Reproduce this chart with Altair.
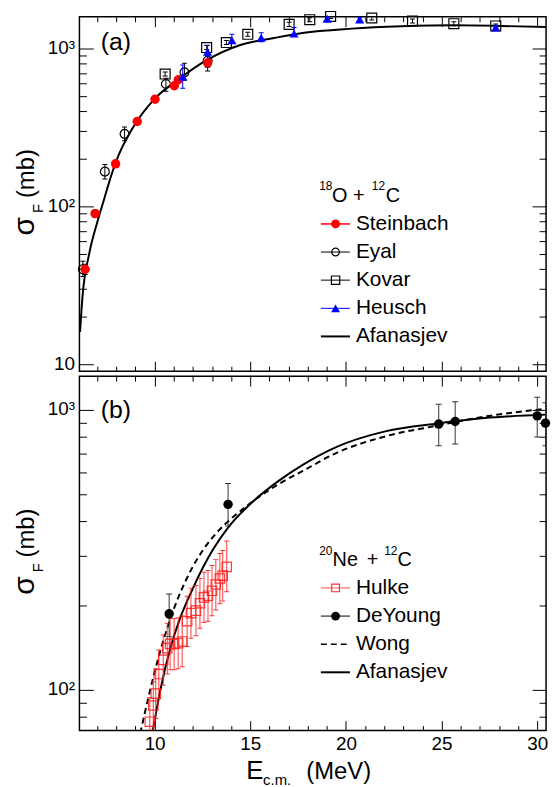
import altair as alt
import pandas as pd

FONT = "Liberation Sans"
W, H = 470, 357
X_DOMAIN = [6.07, 30.46]
YA_DOMAIN = [9.04, 1589]
YB_DOMAIN = [71.6, 1320]

# ---------------- tick values ----------------
x_major = [10, 15, 20, 25, 30]
x_minor = [7, 8, 9, 11, 12, 13, 14, 16, 17, 18, 19, 21, 22, 23, 24, 26, 27, 28, 29]
ya_major = [10, 100, 1000]
ya_minor = [20, 30, 40, 50, 60, 70, 80, 90, 200, 300, 400, 500, 600, 700, 800, 900]
yb_major = [100, 1000]
yb_minor = [80, 90, 200, 300, 400, 500, 600, 700, 800, 900]

# ---------------- panel (a): 18O + 12C ----------------
stein_E = [6.37, 6.89, 7.96, 9.09, 10.02, 11.03, 11.24, 12.77]
stein_s = [40, 90, 186, 345, 477, 581, 634, 811]
stein_lo = [37, 85, 178, 333, 462, 565, 617, 720]
stein_hi = [43, 95, 194, 357, 492, 597, 651, 900]

eyal_E = [6.25, 7.40, 8.43, 10.59, 11.56, 12.77]
eyal_s = [40, 166, 288, 596, 706, 837]
eyal_lo = [36, 149, 260, 537, 630, 760]
eyal_hi = [45, 184, 318, 647, 805, 920]

kovar_E = [10.55, 12.72, 13.75, 14.87, 17.03, 18.11, 19.20, 21.35, 23.48, 25.64, 27.83]
kovar_s = [689, 1014, 1091, 1230, 1422, 1521, 1596, 1560, 1494, 1436, 1389]
kovar_lo = [669, 985, 1060, 1195, 1380, 1477, 1550, 1515, 1450, 1394, 1349]
kovar_hi = [709, 1044, 1124, 1267, 1465, 1567, 1644, 1607, 1539, 1479, 1431]

heusch_E = [11.47, 12.77, 14.04, 15.57, 17.29, 19.02, 20.72, 27.83]
heusch_s = [664, 953, 1128, 1168, 1242, 1545, 1528, 1356]
heusch_lo = [560, 887, 1075, 1102, 1189, 1500, 1485, 1320]
heusch_hi = [785, 1049, 1230, 1260, 1356, 1590, 1572, 1393]

afa_a_E = [6.10, 6.24, 6.58, 7.01, 7.36, 7.62, 7.96, 8.91, 9.95, 11.33, 12.72,
           14.44, 16.25, 17.72, 20.32, 22.90, 25.68, 28.10, 30.46]
afa_a_s = [16, 27.6, 50, 80, 111, 142, 189, 322, 473, 648, 843,
           1049, 1165, 1255, 1336, 1381, 1402, 1389, 1368]

# ---------------- panel (b): 20Ne + 12C ----------------
hulke_E = [9.75, 9.93, 10.06, 10.22, 10.45, 10.66, 10.81, 11.02, 11.23, 11.44, 11.70,
           11.90, 12.16, 12.37, 12.58, 12.79, 13.00, 13.20, 13.41, 13.56, 13.77]
hulke_s = [77, 88, 97, 114, 128, 141, 146, 146, 147, 149, 176,
           188, 192, 204, 214, 217, 226, 238, 250, 256, 275]
hulke_lo = [63, 72, 79, 93, 104, 114, 118, 118, 119, 121, 143,
            153, 156, 166, 174, 176, 184, 193, 203, 208, 224]
hulke_hi = [94, 107, 119, 139, 157, 173, 180, 180, 181, 184, 216,
            231, 236, 250, 263, 267, 278, 292, 307, 315, 340]

dey_E = [10.76, 13.84, 24.85, 25.71, 30.00, 30.43]
dey_s = [187, 460, 890, 909, 952, 897]
dey_lo = [155, 385, 745, 755, 800, 745]
dey_hi = [220, 546, 1048, 1070, 1109, 1060]

wong_E = [9.25, 9.69, 10.30, 11.07, 11.68, 12.80, 13.15, 14.96, 16.52, 17.72,
          19.46, 22.05, 24.81, 27.23, 30.46]
wong_s = [70, 95, 138, 200, 250, 335, 358, 462, 545, 604,
          700, 804, 880, 946, 1010]

afa_b_E = [9.88, 10.30, 10.81, 11.30, 11.80, 12.54, 13.06, 13.84, 15.13, 16.52,
           17.72, 19.46, 22.05, 24.81, 27.23, 30.46]
afa_b_s = [70, 100, 140, 178, 215, 275, 318, 380, 470, 560,
           635, 735, 838, 895, 935, 962]

# ---------------- helpers ----------------
xsc = alt.Scale(domain=X_DOMAIN, nice=False, zero=False)
ysc_a = alt.Scale(type="log", domain=YA_DOMAIN, nice=False)
ysc_b = alt.Scale(type="log", domain=YB_DOMAIN, nice=False)
ONE = pd.DataFrame({"k": [0]})


def X(field, axis=None):
    return alt.X(f"{field}:Q", scale=xsc, axis=axis)


def Y(field, ysc, axis=None):
    return alt.Y(f"{field}:Q", scale=ysc, axis=axis)


def tick_axis(orient, values, size, offset):
    return alt.Axis(orient=orient, values=values, tickSize=size, offset=offset,
                    labels=False, domain=False, grid=False, title=None, ticks=True,
                    tickColor="black", tickWidth=1)


def axis_layers(df, ysc, ymaj, ymin, show_x_labels):
    ylab = alt.Axis(orient="left", values=ymaj, ticks=False, domain=False, grid=False,
                    title=None,
                    labelExpr="datum.value == 10 ? '10' : (datum.value == 100 ? '10²' : '10³')",
                    labelFont=FONT, labelFontSize=19, labelColor="black", labelPadding=5,
                    labelFlush=False, labelOverlap=False, labelOffset=-1)
    xlab = None
    if show_x_labels:
        xlab = alt.Axis(orient="bottom", values=x_major, ticks=False, domain=False,
                        grid=False, title=None, format="d", labelFont=FONT,
                        labelFontSize=19, labelColor="black", labelPadding=4,
                        labelFlush=False)
    specs = [(xlab, ylab),
             (tick_axis("top", x_major, 10, -H), tick_axis("right", ymaj, 14, -W)),
             (tick_axis("top", x_minor, 5, -H), tick_axis("right", ymin, 7, -W)),
             (tick_axis("bottom", x_major, 10, -H), tick_axis("left", ymaj, 14, -W)),
             (tick_axis("bottom", x_minor, 5, -H), tick_axis("left", ymin, 7, -W))]
    return [alt.Chart(df).mark_point(opacity=0, clip=True).encode(
        x=X("E", xa), y=Y("s", ysc, ya)) for xa, ya in specs]


def curve(E, s, ysc, dash=None):
    df = pd.DataFrame({"E": E, "s": s})
    kw = dict(color="black", strokeWidth=2, clip=True, interpolate="monotone")
    if dash:
        kw["strokeDash"] = dash
    return alt.Chart(df).mark_line(**kw).encode(x=X("E"), y=Y("s", ysc))


def series(E, s, lo, hi, ysc, shape, size, color, filled, bar_color, cap=5,
           sw=1.2, opacity=1.0):
    df = pd.DataFrame({"E": E, "s": s, "lo": lo, "hi": hi})
    base = alt.Chart(df)
    rule = base.mark_rule(color=bar_color, strokeWidth=1, clip=True, opacity=opacity).encode(
        x=X("E"), y=Y("lo", ysc), y2="hi:Q")
    cap_lo = base.mark_tick(orient="horizontal", size=cap, thickness=1, color=bar_color,
                            clip=True, opacity=opacity).encode(x=X("E"), y=Y("lo", ysc))
    cap_hi = base.mark_tick(orient="horizontal", size=cap, thickness=1, color=bar_color,
                            clip=True, opacity=opacity).encode(x=X("E"), y=Y("hi", ysc))
    pts = base.mark_point(shape=shape, size=size, filled=filled, color=color,
                          strokeWidth=sw, opacity=opacity).encode(x=X("E"), y=Y("s", ysc))
    return [rule, cap_lo, cap_hi, pts]


def seg(x1, x2, y, color, dash=None, width=1.5):
    kw = dict(color=color, strokeWidth=width)
    if dash:
        kw["strokeDash"] = dash
    return alt.Chart(ONE).mark_rule(**kw).encode(x=alt.value(x1), x2=alt.value(x2),
                                                 y=alt.value(y))


def sym(x, y, shape, size, color, filled, sw=1.2):
    return alt.Chart(ONE).mark_point(shape=shape, size=size, filled=filled, color=color,
                                     opacity=1, strokeWidth=sw).encode(
        x=alt.value(x), y=alt.value(y))


def txt(s, x, y, size, align="left", baseline="alphabetic", angle=None):
    kw = dict(text=s, align=align, baseline=baseline, font=FONT, fontSize=size,
              color="black")
    if angle is not None:
        kw["angle"] = angle
    return alt.Chart(ONE).mark_text(**kw).encode(x=alt.value(x), y=alt.value(y))


def ytitle():
    return [txt("σ", -45.5, 211, 30, align="center", angle=270),
            txt("F", -36.8, 193, 15, align="center", angle=270),
            txt("(mb)", -45.5, 158, 24, align="center", angle=270)]


# ---------------- panel (a) ----------------
LX1, LX2, LXM, LXT = 243.2, 272.5, 258, 278.5
la = [208.7, 237, 265.3, 293.7, 322]

A = axis_layers(pd.DataFrame({"E": afa_a_E, "s": afa_a_s}), ysc_a, ya_major, ya_minor, False)
A += [curve(afa_a_E, afa_a_s, ysc_a)]
A += series(kovar_E, kovar_s, kovar_lo, kovar_hi, ysc_a, "square", 100, "black", False, "black")
A += series(eyal_E, eyal_s, eyal_lo, eyal_hi, ysc_a, "circle", 80, "black", False, "black")
A += series(stein_E, stein_s, stein_lo, stein_hi, ysc_a, "circle", 90, "red", True, "black")
A += series(heusch_E, heusch_s, heusch_lo, heusch_hi, ysc_a, "triangle-up", 85, "blue", True, "blue")
A += [txt("(a)", 21.5, 33.7, 25)]
A += [txt("18", 241.5, 175, 12), txt("O", 254.5, 187, 20), txt("+", 275.5, 187, 20),
      txt("12", 294.5, 175, 12), txt("C", 308.5, 187, 20)]
A += [seg(LX1, LX2, la[0], "red"), sym(LXM, la[0], "circle", 80, "red", True),
      txt("Steinbach", LXT, la[0], 21, baseline="middle")]
A += [seg(LX1, LX2, la[1], "black", width=1), sym(LXM, la[1], "circle", 60, "black", False),
      txt("Eyal", LXT, la[1], 21, baseline="middle")]
A += [seg(LX1, LX2, la[2], "black", width=1), sym(LXM, la[2], "square", 70, "black", False),
      txt("Kovar", LXT, la[2], 21, baseline="middle")]
A += [seg(LX1, LX2, la[3], "blue", width=1), sym(LXM, la[3], "triangle-up", 80, "blue", True),
      txt("Heusch", LXT, la[3], 21, baseline="middle")]
A += [seg(LX1, LX2, la[4], "black", width=2),
      txt("Afanasjev", LXT, la[4], 21, baseline="middle")]
A += ytitle()
# invisible anchor fixing the page origin of the plot area
A += [alt.Chart(ONE).mark_rule(opacity=0, strokeWidth=0).encode(
    x=alt.value(-78.5), x2=alt.value(-70), y=alt.value(-13))]

panel_a = alt.layer(*A).resolve_axis(x="independent", y="independent").properties(
    width=W, height=H)

# ---------------- panel (b) ----------------
lb = [213.3, 241.7, 270, 298.3]
B = axis_layers(pd.DataFrame({"E": afa_b_E, "s": afa_b_s}), ysc_b, yb_major, yb_minor, True)
B += [curve(wong_E, wong_s, ysc_b, dash=[6, 4]), curve(afa_b_E, afa_b_s, ysc_b)]
B += series(hulke_E, hulke_s, hulke_lo, hulke_hi, ysc_b, "square", 90, "#ff1a1a", False,
            "#ff1a1a", cap=5, opacity=0.85)
B += series(dey_E, dey_s, dey_lo, dey_hi, ysc_b, "circle", 90, "black", True, "#333333", cap=6)
B += [txt("(b)", 21.5, 42.5, 25)]
B += [txt("20", 241.5, 180, 12), txt("Ne", 255, 191.7, 20), txt("+", 289.5, 191.7, 20),
      txt("12", 307, 180, 12), txt("C", 320.5, 191.7, 20)]
B += [seg(LX1, LX2, lb[0], "#ff5050", width=1), sym(LXM, lb[0], "square", 60, "#ff3030", False),
      txt("Hulke", LXT, lb[0], 21, baseline="middle")]
B += [seg(LX1, LX2, lb[1], "#555555", width=1.5), sym(LXM, lb[1], "circle", 80, "black", True),
      txt("DeYoung", LXT, lb[1], 21, baseline="middle")]
B += [seg(LX1, LX2 - 2, lb[2], "black", dash=[6, 4], width=1.5),
      txt("Wong", LXT, lb[2], 21, baseline="middle")]
B += [seg(LX1, LX2, lb[3], "black", width=2),
      txt("Afanasjev", LXT, lb[3], 21, baseline="middle")]
B += ytitle()
B += [txt("E", 168, 406, 26), txt("c.m.", 185, 412, 15), txt("(MeV)", 228.5, 406, 24)]

panel_b = alt.layer(*B).resolve_axis(x="independent", y="independent").properties(
    width=W, height=H)

chart = alt.vconcat(panel_a, panel_b, spacing=0).properties(
    background="white",
    padding={"left": 0, "top": 0, "right": 2, "bottom": 0},
).configure_view(stroke="black", strokeWidth=1.5)

chart.save("out.html", embed_options={"renderer": "svg", "actions": False})
